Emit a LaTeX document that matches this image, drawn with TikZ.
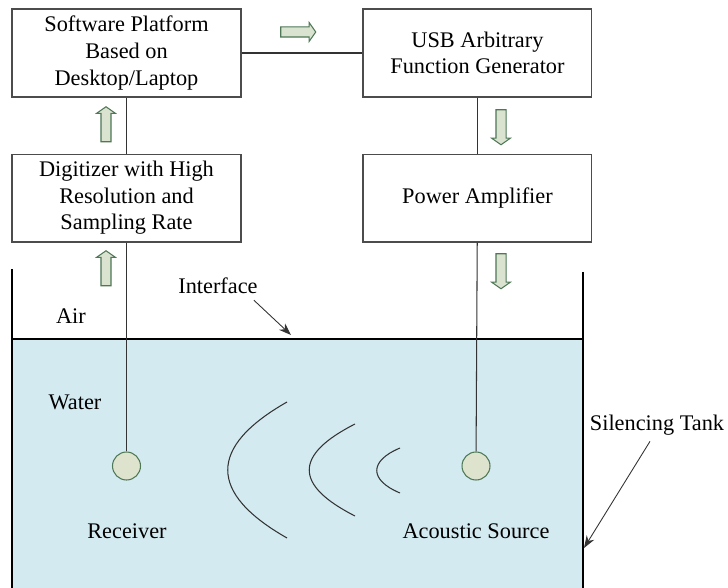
\documentclass[tikz,border=0pt]{standalone}
\usepackage{fontspec}
\setmainfont{Liberation Serif}
\usetikzlibrary{shapes.arrows, arrows.meta, positioning}
\definecolor{waterblue}{RGB}{211,234,240}
\definecolor{flowfill}{RGB}{218,227,208}
\definecolor{flowedge}{RGB}{78,120,86}
\definecolor{probefill}{RGB}{221,227,205}

\begin{document}
\begin{tikzpicture}[x=0.02cm, y=-0.02cm, font=\fontsize{12.7}{15.1}\selectfont]
\tikzstyle{box} = [rectangle, minimum width=4.58cm, minimum height=1.76cm, align=center, draw=black!70, line width=0.6pt, inner sep=0pt]
\tikzstyle{flow} = [single arrow, draw=flowedge, fill=flowfill, line width=0.6pt, inner xsep=0pt, inner ysep=0.09cm, minimum height=0.7cm, single arrow head extend=0.09cm, single arrow tip angle=110]
\tikzstyle{probe} = [circle, draw=flowedge, fill=probefill, line width=0.6pt, minimum size=0.56cm, inner sep=0pt]
\tikzstyle{wire} = [draw=black!80, line width=0.6pt]
\tikzstyle{pointer} = [-{Stealth[length=7pt, width=5pt]}, draw=black!80, line width=0.5pt]
\tikzstyle{wave} = [draw=black!80, line width=0.6pt]

\useasboundingbox (0,0) rectangle (728,588);

% tank and water
\fill[waterblue] (12,339) rectangle (583,588);
\draw[line width=0.6pt] (12,339) -- (583,339);
\draw[line width=0.7pt] (12,269) -- (12,588);
\draw[line width=0.7pt] (583,272) -- (583,588);

% blocks
\node (software) [box] at (126.5,53) {Software Platform\\Based on\\Desktop/Laptop};
\node (digitizer) [box, below=1.12cm of software] {Digitizer with High\\Resolution and\\Sampling Rate};
\node (usb) [box, right=2.42cm of software] {USB Arbitrary\\Function Generator};
\node (amp) [box, below=1.12cm of usb] {Power Amplifier};

% transducers
\node (receiver) [probe] at (126.5,466) {};
\node (source) [probe] at (476,466) {};

\draw [wire] (software) -- (usb);
\draw [wire] (digitizer) -- (software);
\draw [wire] (usb) -- (amp);
\draw [wire] (digitizer) -- (receiver);
\draw [wire] (amp) -- (source);

% signal flow
\node (flowA) [flow] at (296.5,32) {};
\node (flowB) [flow, rotate=90] at (106,126) {};
\node (flowC) [flow, rotate=90] at (106,270) {};
\node (flowD) [flow, rotate=-90] at (501,125.5) {};
\node (flowE) [flow, rotate=-90] at (501,269.5) {};

% wave fronts
\draw [wave] (287,402) .. controls (208,447) and (208,493) .. (287,538);
\draw [wave] (355,424) .. controls (294,455) and (294,485) .. (355,516);
\draw [wave] (400,448) .. controls (369,461) and (369,480) .. (400,493);

% labels
\node (air) at (71,316) {Air};
\node (water) at (75,402) {Water};
\node (rxlabel) at (127,531) {Receiver};
\node (srclabel) at (476,531) {Acoustic Source};
\node (iface) at (218,286) {Interface};
\node (tank) at (657,425) {Silencing Tank};
\coordinate (ifacetip) at (291,335);
\coordinate (tanktip) at (584,548);

\draw [pointer] ([xshift=-0.2cm]iface.south east) -- (ifacetip);
\draw [pointer] ([xshift=-0.14cm]tank.south) -- (tanktip);
\end{tikzpicture}
\end{document}
